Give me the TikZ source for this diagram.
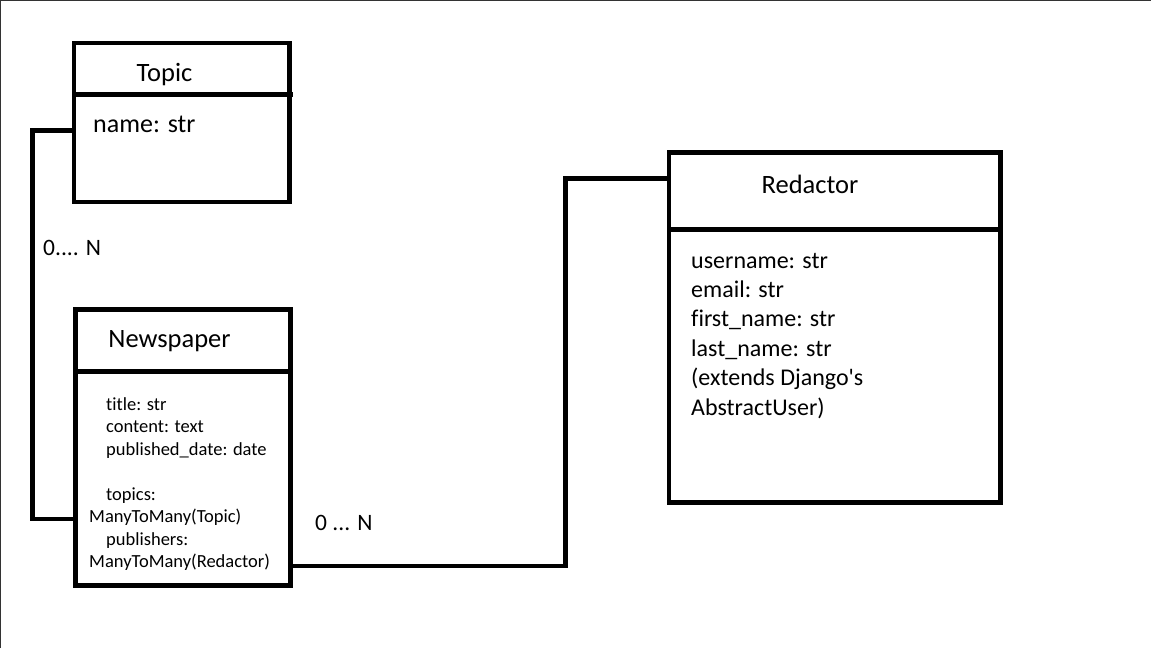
\documentclass[tikz,border=0pt]{standalone}
\usepackage{fontspec}
\setmainfont{Carlito}[Ligatures=CommonOff]
\usetikzlibrary{positioning}

\begin{document}
\begin{tikzpicture}[
  x=1pt, y=-1pt,
  box/.style={draw, line width=4.3pt, inner sep=0pt, outer sep=0pt},
  link/.style={line width=4.3pt},
  frame/.style={black!80, line width=1pt},
  head/.style={font=\fontsize{26.5}{32}\selectfont, inner sep=0pt, anchor=base},
  attr/.style={font=\fontsize{24}{29.4}\selectfont, align=left,
               inner sep=0pt, anchor=base west},
  field/.style={font=\fontsize{18.5}{22.5}\selectfont, align=left,
                inner sep=0pt, anchor=base west},
  mult/.style={font=\fontsize{23.5}{28}\selectfont, inner sep=0pt,
               anchor=base west}
]
\useasboundingbox (0,0) rectangle (1151,648);
\draw[frame] (0.5,648) -- (0.5,0.5) -- (1151,0.5);

%% entity boxes
\node[box, minimum width=215.5pt, minimum height=159pt] (topic) at (181.75,122.5) {};
\node[box, minimum width=215pt, minimum height=276pt,
      below=107.5pt of topic, xshift=1.25pt] (newspaper) {};
\node[box, minimum width=331.5pt, minimum height=350pt] (redactor) at (834.75,327.5) {};

%% header dividers
\draw[link] ([yshift=-51.5pt]topic.north west) -- ([xshift=3pt,yshift=-51.5pt]topic.north east);
\draw[link] ([yshift=-62pt]newspaper.north west) -- ([yshift=-62pt]newspaper.north east);
\draw[link] ([yshift=-77pt]redactor.north west) -- ([yshift=-77pt]redactor.north east);

%% titles
\node[head] (topichead) at (164.5,81) {Topic};
\node[head] (newshead)  at (169.5,347) {Newspaper};
\node[head] (redhead)   at (810,193) {Redactor};

%% fields (base = last line)
\node[attr, font=\fontsize{26}{31}\selectfont] (topicbody) at (93,132) {name: str};
\node[field] (newsbody) at (89,567.5)
     {\hspace*{17pt}title: str\\
      \hspace*{17pt}content: text\\
      \hspace*{17pt}published\_date: date\\[22.5pt]
      \hspace*{17pt}topics:\\
      ManyToMany(Topic)\\
      \hspace*{17pt}publishers:\\
      ManyToMany(Redactor)};
\node[attr] (redbody) at (691,415)
     {username: str\\
      email: str\\
      first\_name: str\\
      last\_name: str\\
      (extends Django\textquotesingle s\\
      AbstractUser)};

%% relations
\draw[link] ([yshift=-8pt]topic.west) -- ++(-41.5,0) |- ([yshift=-71.5pt]newspaper.west);
\draw[link] ([yshift=-118.5pt]newspaper.east)
  -| ([xshift=-103.5pt,yshift=149pt]redactor.west) -- ([yshift=149pt]redactor.west);

\node[mult] (topicmult)  at (43,255)  {0.... N};
\node[mult] (redmult)    at (315,530) {0 ... N};

\end{tikzpicture}
\end{document}
